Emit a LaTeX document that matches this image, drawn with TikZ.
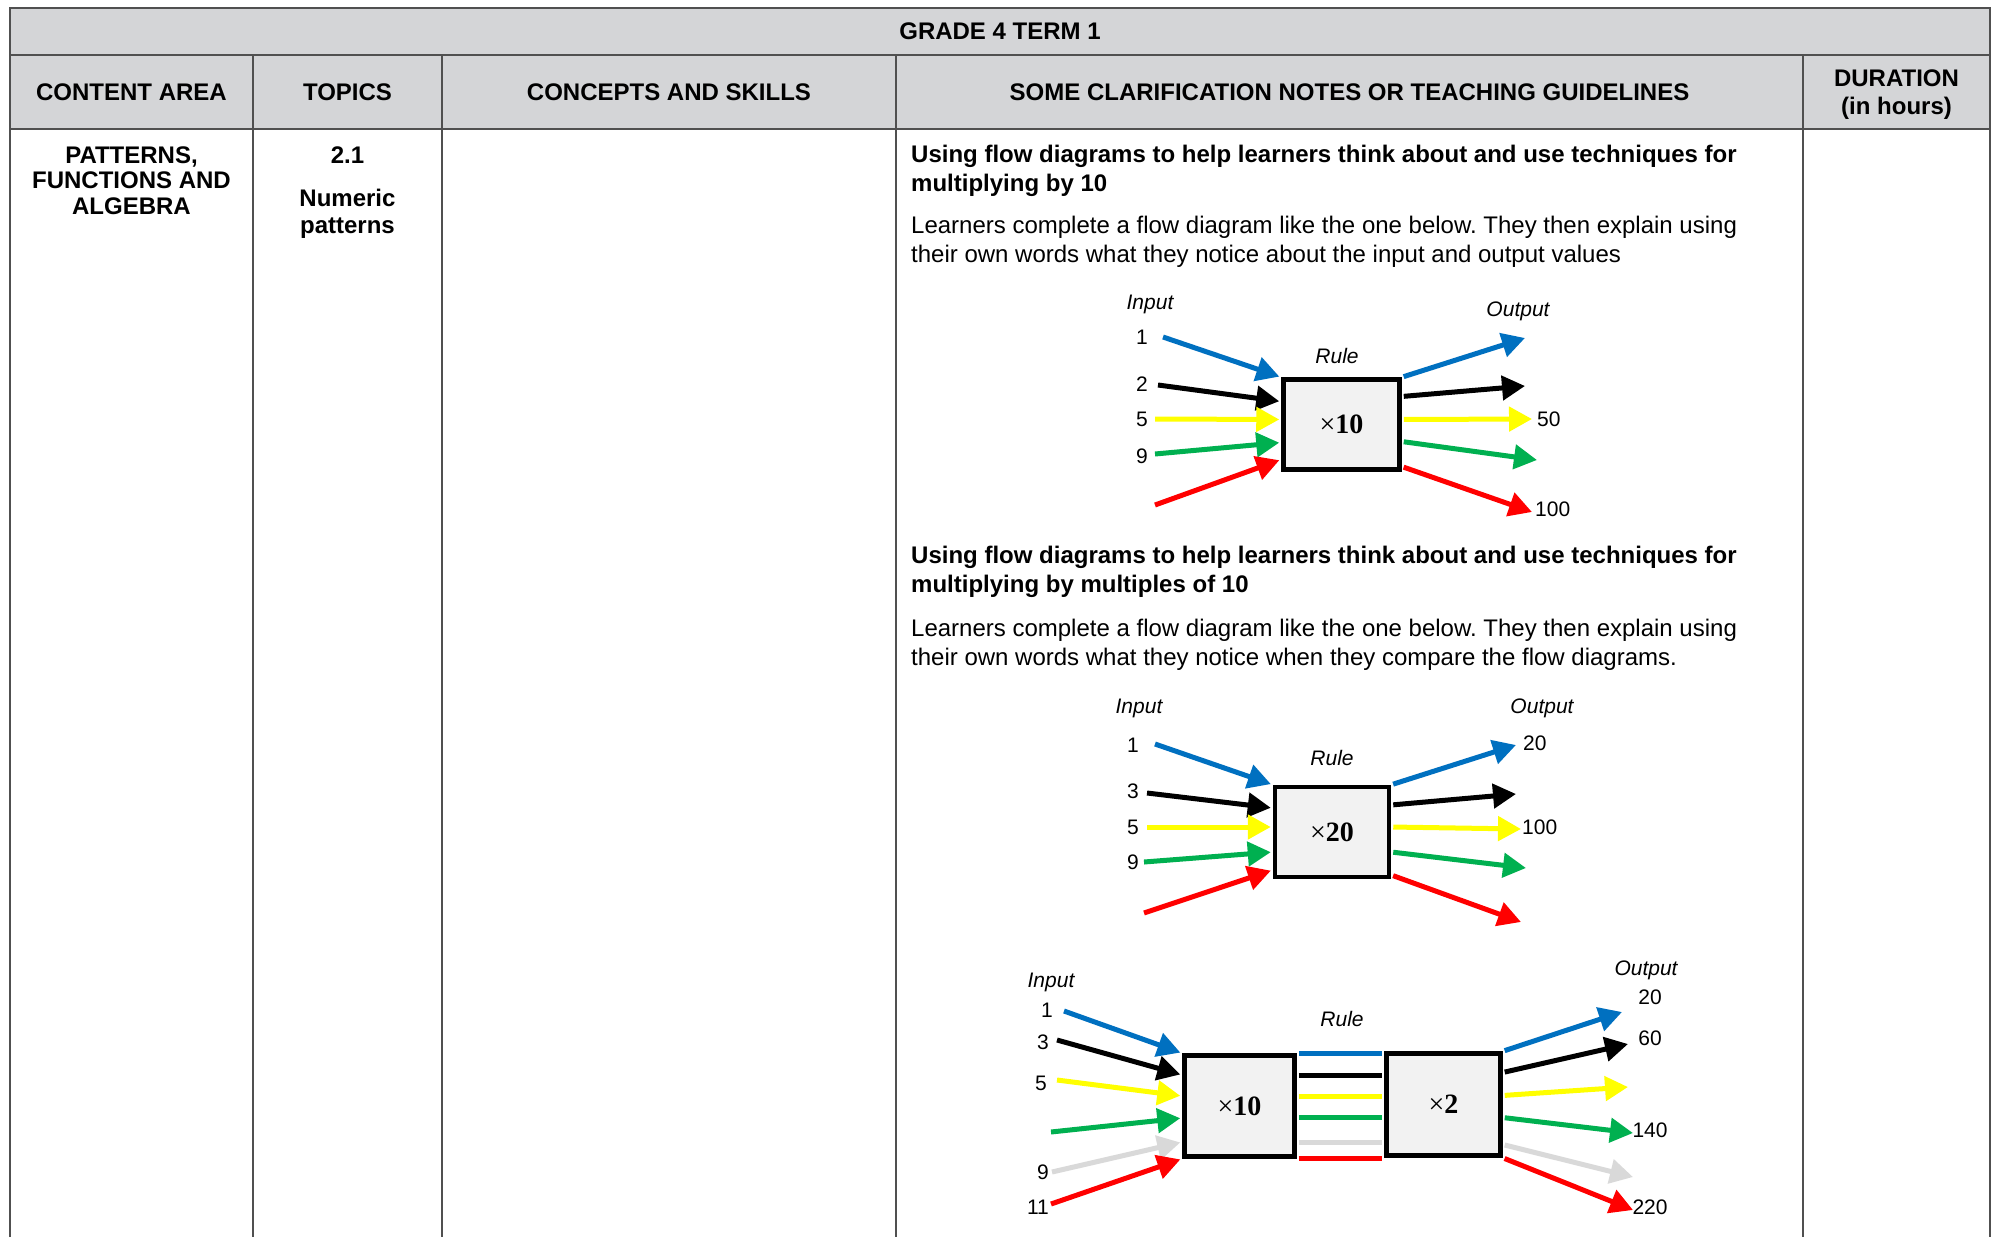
\documentclass[tikz,border=0pt]{standalone}
\usepackage{amsmath,amssymb}
\usepackage{xcolor}
\usepackage[no-math]{fontspec}
\setmainfont{Liberation Sans}
\newfontfamily\rulefont{Liberation Serif}
\usetikzlibrary{arrows.meta}
\frenchspacing

\definecolor{headgray}{HTML}{D4D5D7}
\definecolor{linegray}{HTML}{505050}
\definecolor{boxfill}{HTML}{F2F2F2}
\definecolor{fdblue}{HTML}{0070C0}
\definecolor{fdyellow}{HTML}{FFFF00}
\definecolor{fdgreen}{HTML}{00B050}
\definecolor{fdred}{HTML}{FF0000}
\definecolor{fdgray}{HTML}{D9D9D9}

\newcommand{\ruleby}[1]{{\rulefont ×\textbf{#1}}}

\begin{document}
\begin{tikzpicture}[x=1pt,y=-1pt,
  font=\fontsize{24}{29}\selectfont,
  grid/.style={linegray,line width=2pt},
  cell/.style={font=\fontsize{24}{29}\selectfont\bfseries, inner sep=0pt, align=center, anchor=base},
  note/.style={anchor=base west, inner sep=0pt, align=left},
  lbl/.style={font=\fontsize{21}{24}\selectfont, inner sep=0pt},
  tag/.style={lbl, font=\fontsize{21}{24}\selectfont\itshape},
  fn/.style={draw=black, line width=4.5pt, fill=boxfill, inner sep=0pt, font=\fontsize{28}{30}\selectfont},
  flow/.style={line width=5pt, -{Triangle[length=23pt,width=24pt]}},
  flowin/.style={flow, shorten >=2pt},
  flowout/.style={flow, shorten <=2pt},
  link/.style={line width=5pt, shorten <=2pt, shorten >=2pt}]
 \useasboundingbox (0,0) rectangle (1997,1237);
 \fill[white] (0,0) rectangle (1997,1237);

 % table frame
 \fill[headgray] (10,8) rectangle (1990,129);
 \draw[grid] (10,1237) -- (10,8) -- (1990,8) -- (1990,1237);
 \draw[grid] (10,55) -- (1990,55) (10,129) -- (1990,129);
 \foreach \x in {253,442,896,1803}
   \draw[grid] (\x,55) -- (\x,1237);

 % headings (a node with several lines sits on its last line)
 \node[cell] (term) at (1000,39) {GRADE 4 TERM 1};
 \node[cell] (hArea) at (131.5,100) {CONTENT AREA};
 \node[cell] (hTopic) at (347.5,100) {TOPICS};
 \node[cell] (hSkill) at (669,100) {CONCEPTS AND SKILLS};
 \node[cell] (hNotes) at (1349.5,100) {SOME CLARIFICATION NOTES OR TEACHING GUIDELINES};
 \node[cell, font=\fontsize{24}{28}\selectfont\bfseries] (hTime) at (1896.5,114) {DURATION\\(in hours)};

 % first row
 \node[cell, font=\fontsize{24}{25.5}\selectfont\bfseries] (area) at (131.5,214) {PATTERNS,\\FUNCTIONS AND\\ALGEBRA};
 \node[cell] (topic) at (347.5,163) {2.1};
 \node[cell, font=\fontsize{24}{27}\selectfont\bfseries] (topicName) at (347.5,233) {Numeric\\patterns};
 \node[note, font=\fontsize{24}{29}\selectfont\bfseries] (head1) at (911,191)
   {Using flow diagrams to help learners think about and use techniques for\\multiplying by 10};
 \node[note] (text1) at (911,262)
   {Learners complete a flow diagram like the one below. They then explain using\\their own words what they notice about the input and output values};
 \node[note, font=\fontsize{24}{29}\selectfont\bfseries] (head2) at (911,592)
   {Using flow diagrams to help learners think about and use techniques for\\multiplying by multiples of 10};
 \node[note] (text2) at (911,665)
   {Learners complete a flow diagram like the one below. They then explain using\\their own words what they notice when they compare the flow diagrams.};

 % flow diagram x10
 \node[fn, minimum width=116pt, minimum height=90pt] (r1) at (1341.5,424.5) {\ruleby{10}};
 \node[tag] (r1rule) at (1337,356) {Rule};
 \node[tag] (r1in) at (1150,304) {Input};
 \node[tag] (r1out) at (1518,311) {Output};
 \foreach \n/\v/\y in {a/1/337,b/2/384,c/5/419,d/9/456}
   \node[lbl] (r1i\n) at (1142,\y) {\v};
 \node[lbl, anchor=west] (r1oc) at (1537,419) {50};
 \node[lbl, anchor=west] (r1oe) at (1535,509) {100};
 \coordinate (s1a) at (1163,337);
 \coordinate (s1b) at (1158,385);
 \coordinate (s1c) at (1155,419);
 \coordinate (s1d) at (1155,454);
 \coordinate (s1e) at (1155,505);
 \coordinate (t1a) at (1525,338);
 \coordinate (t1b) at (1525,386);
 \coordinate (t1c) at (1532,419);
 \coordinate (t1d) at (1537,460);
 \coordinate (t1e) at (1532,512);
 \draw[flowin, fdblue] (s1a) -- (r1.north west);
 \draw[flowin, black] (s1b) -- ([yshift=23pt]r1.west);
 \draw[flowin, fdyellow] (s1c) -- ([yshift=5pt]r1.west);
 \draw[flowin, fdgreen] (s1d) -- ([yshift=-18pt]r1.west);
 \draw[flowin, fdred] (s1e) -- ([yshift=-35pt]r1.west);
 \draw[flowout, fdblue] (r1.north east) -- (t1a);
 \draw[flowout, black] ([yshift=28pt]r1.east) -- (t1b);
 \draw[flowout, fdyellow] ([yshift=5pt]r1.east) -- (t1c);
 \draw[flowout, fdgreen] ([yshift=-17pt]r1.east) -- (t1d);
 \draw[flowout, fdred] ([yshift=-42pt]r1.east) -- (t1e);

 % flow diagram x20
 \node[fn, minimum width=114pt, minimum height=90pt] (r2) at (1332,832) {\ruleby{20}};
 \node[tag] (r2rule) at (1332,758) {Rule};
 \node[tag] (r2in) at (1139,708) {Input};
 \node[tag] (r2out) at (1542,708) {Output};
 \foreach \n/\v/\y in {a/1/745,b/3/791,c/5/827,d/9/862}
   \node[lbl] (r2i\n) at (1133,\y) {\v};
 \node[lbl, anchor=west] (r2oa) at (1523,743) {20};
 \node[lbl, anchor=west] (r2oc) at (1522,827) {100};
 \coordinate (s2a) at (1155,744);
 \coordinate (s2b) at (1147,793);
 \coordinate (s2c) at (1147,827);
 \coordinate (s2d) at (1144,862);
 \coordinate (s2e) at (1144,913);
 \coordinate (t2a) at (1516,745);
 \coordinate (t2b) at (1516,794);
 \coordinate (t2c) at (1521,829);
 \coordinate (t2d) at (1526,868);
 \coordinate (t2e) at (1521,922);
 \draw[flowin, fdblue] (s2a) -- (r2.north west);
 \draw[flowin, black] (s2b) -- ([yshift=24pt]r2.west);
 \draw[flowin, fdyellow] (s2c) -- ([yshift=5pt]r2.west);
 \draw[flowin, fdgreen] (s2d) -- ([yshift=-20pt]r2.west);
 \draw[flowin, fdred] (s2e) -- ([yshift=-38pt]r2.west);
 \draw[flowout, fdblue] (r2.north east) -- (t2a);
 \draw[flowout, black] ([yshift=27pt]r2.east) -- (t2b);
 \draw[flowout, fdyellow] ([yshift=5pt]r2.east) -- (t2c);
 \draw[flowout, fdgreen] ([yshift=-20pt]r2.east) -- (t2d);
 \draw[flowout, fdred] ([yshift=-43pt]r2.east) -- (t2e);

 % flow diagram x10 then x2
 \node[fn, minimum width=110pt, minimum height=101pt] (r3a) at (1239.5,1106) {\ruleby{10}};
 \node[fn, minimum width=114pt, minimum height=102pt] (r3b) at (1443.5,1104.5) {\ruleby{2}};
 \node[tag] (r3rule) at (1342,1019) {Rule};
 \node[tag] (r3in) at (1051,982) {Input};
 \node[tag] (r3out) at (1646,970) {Output};
 \foreach \n/\v/\x/\y in {a/1/1047/1010,b/3/1043/1042,c/5/1041/1083,e/9/1043/1172,f/11/1038/1207}
   \node[lbl] (r3i\n) at (\x,\y) {\v};
 \foreach \n/\v/\y in {a/20/997,b/60/1038,d/140/1130,f/220/1207}
   \node[lbl] (r3o\n) at (1650,\y) {\v};
 \coordinate (s3a) at (1064,1011);
 \coordinate (s3b) at (1057,1040);
 \coordinate (s3c) at (1057,1080);
 \coordinate (s3d) at (1051,1132);
 \coordinate (s3e) at (1052,1172);
 \coordinate (s3f) at (1051,1204);
 \coordinate (t3a) at (1622,1012);
 \coordinate (t3b) at (1628,1044);
 \coordinate (t3c) at (1628,1087);
 \coordinate (t3d) at (1633,1133);
 \coordinate (t3e) at (1633,1177);
 \coordinate (t3f) at (1633,1210);
 \draw[flowin, fdblue] (s3a) -- (r3a.north west);
 \draw[flowin, black] (s3b) -- ([yshift=31pt]r3a.west);
 \draw[flowin, fdyellow] (s3c) -- ([yshift=10pt]r3a.west);
 \draw[flowin, fdgreen] (s3d) -- ([yshift=-12pt]r3a.west);
 \draw[flowin, fdgray] (s3e) -- ([yshift=-36pt]r3a.west);
 \draw[flowin, fdred] (s3f) -- (r3a.south west);
 % links from one rule to the next
 \coordinate (k3a) at ([yshift=53pt]r3a.east);
 \coordinate (k3b) at ([yshift=31pt]r3a.east);
 \coordinate (k3c) at ([yshift=10pt]r3a.east);
 \coordinate (k3d) at ([yshift=-11pt]r3a.east);
 \coordinate (k3e) at ([yshift=-36pt]r3a.east);
 \coordinate (k3f) at ([yshift=-52pt]r3a.east);
 \draw[link, fdblue] (k3a) -- (k3a -| r3b.west);
 \draw[link, black] (k3b) -- (k3b -| r3b.west);
 \draw[link, fdyellow] (k3c) -- (k3c -| r3b.west);
 \draw[link, fdgreen] (k3d) -- (k3d -| r3b.west);
 \draw[link, fdgray] (k3e) -- (k3e -| r3b.west);
 \draw[link, fdred] (k3f) -- (k3f -| r3b.west);
 \draw[flowout, fdblue] (r3b.north east) -- (t3a);
 \draw[flowout, black] ([yshift=32pt]r3b.east) -- (t3b);
 \draw[flowout, fdyellow] ([yshift=9pt]r3b.east) -- (t3c);
 \draw[flowout, fdgreen] ([yshift=-13pt]r3b.east) -- (t3d);
 \draw[flowout, fdgray] ([yshift=-40pt]r3b.east) -- (t3e);
 \draw[flowout, fdred] (r3b.south east) -- (t3f);
\end{tikzpicture}
\end{document}
